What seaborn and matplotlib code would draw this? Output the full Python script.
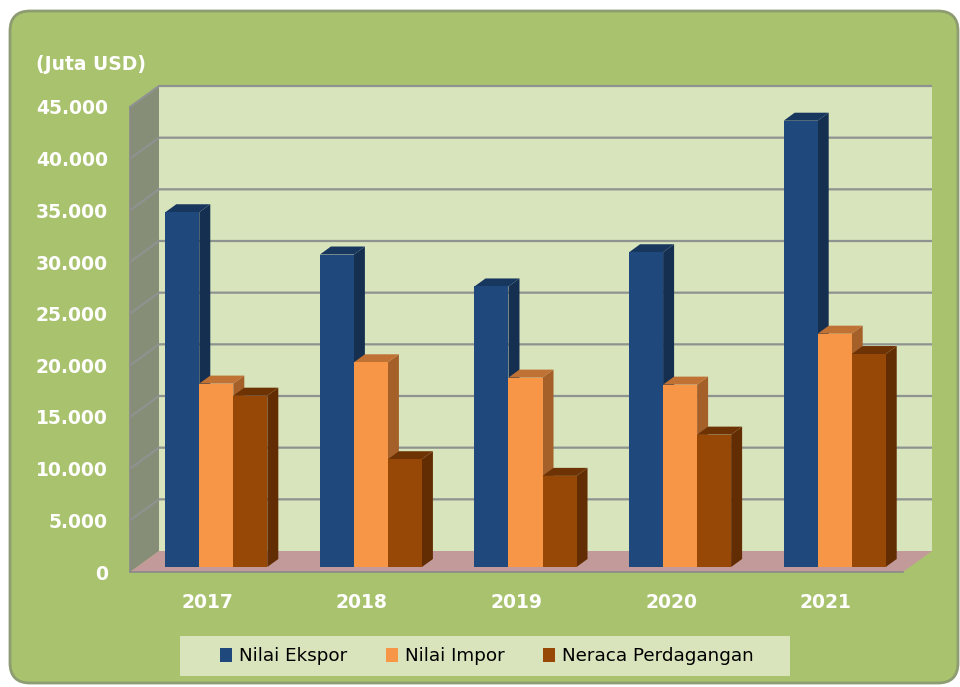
import numpy as np
import pandas as pd
import matplotlib
matplotlib.use("Agg")
import matplotlib.pyplot as plt
import seaborn as sns
from matplotlib.patches import Polygon, FancyBboxPatch, Patch, Rectangle
from matplotlib.transforms import Affine2D, IdentityTransform

# data (Juta USD)
years = ["2017", "2018", "2019", "2020", "2021"]
ekspor = [34330, 30240, 27150, 30460, 43190]
impor = [17750, 19810, 18330, 17650, 22580]
neraca = [16580, 10430, 8820, 12810, 20610]
series = ["Nilai Ekspor", "Nilai Impor", "Neraca Perdagangan"]
yticks = [0, 5000, 10000, 15000, 20000, 25000, 30000, 35000, 40000, 45000]

front_colors = ["#1F497D", "#F79646", "#974806"]
side_colors = ["#142F50", "#A5602A", "#632D03"]
top_colors = ["#17375E", "#C07234", "#6E3304"]

df = pd.DataFrame({
    "Tahun": years * 3,
    "Nilai": ekspor + impor + neraca,
    "Seri": np.repeat(series, len(years)),
})

W, H = 960, 687
sns.set_style("white")
fig = plt.figure(figsize=(W / 100, H / 100), dpi=100, facecolor="white")
I = IdentityTransform()

# green rounded panel
panel = FancyBboxPatch((10, H - 683), 948, 672, boxstyle="round,pad=0,rounding_size=20",
                       fc="#A9C26E", ec="#8E9C72", lw=2)
panel.set_transform(I)
panel.set_zorder(-5)
fig.add_artist(panel)

ax = fig.add_axes([130 / W, 115 / H, 773 / W, 465 / H])
ax.patch.set_visible(False)

sns.barplot(data=df, x="Tahun", y="Nilai", hue="Seri", palette=front_colors,
            width=0.66, saturation=1, linewidth=0, legend=False, ax=ax)
bars = [p for p in ax.patches if isinstance(p, Rectangle) and p.get_height() > 0]
bars = sorted(bars, key=lambda p: p.get_x())
ax.set_xlim(-0.5, 4.5)
ax.set_ylim(0, 45000)
ax.set_xlabel("")
ax.set_ylabel("")

# 3d box: walls, floor, gridlines (display px)
dx, dy = 29, 21
x0, y0 = ax.transData.transform((-0.5, 0))
x1, y1 = ax.transData.transform((4.5, 45000))

def add_poly(pts, fc, z, ec="none", lw=0):
    p = Polygon(pts, closed=True, fc=fc, ec=ec, lw=lw, transform=I, clip_on=False, zorder=z)
    ax.add_patch(p)

add_poly([(x0 + dx, y0 + dy), (x1 + dx, y0 + dy), (x1 + dx, y1 + dy), (x0 + dx, y1 + dy)], "#D8E4BC", 0.1)
add_poly([(x0, y0), (x0 + dx, y0 + dy), (x0 + dx, y1 + dy), (x0, y1)], "#878E77", 0.2)
add_poly([(x0, y0), (x1, y0), (x1 + dx, y0 + dy), (x0 + dx, y0 + dy)], "#C29A9A", 0.3)

for v in yticks[1:]:
    yv = ax.transData.transform((0, v))[1]
    ax.plot([x0, x0 + dx, x1 + dx], [yv, yv + dy, yv + dy], color="#8F9390", lw=1.6,
            transform=I, clip_on=False, zorder=0.4, solid_capstyle="butt")

# bars: shift to mid depth and add side / top faces
sx, sy = 9, 5
bd, be = 11, 8
ncat = len(years)
for i, b in enumerate(bars):
    k = i % 3
    b.set_transform(ax.transData + Affine2D().translate(sx, sy))
    xa, ya = ax.transData.transform((b.get_x(), 0))
    xb, yb = ax.transData.transform((b.get_x() + b.get_width(), b.get_height()))
    xa, xb, ya, yb = xa + sx, xb + sx, ya + sy, yb + sy
    z = 1 + 3 * i
    add_poly([(xb, ya), (xb + bd, ya + be), (xb + bd, yb + be), (xb, yb)], side_colors[k], z)
    add_poly([(xa, yb), (xb, yb), (xb + bd, yb + be), (xa + bd, yb + be)], top_colors[k], z + 1)
    b.set_zorder(z + 2)
    b.set_clip_on(False)

# spines and ticks
for s in ["top", "right"]:
    ax.spines[s].set_visible(False)
for s in ["left", "bottom"]:
    ax.spines[s].set_color("#8A8A8A")
    ax.spines[s].set_linewidth(1.2)

ylabels = [f"{v:,.0f}".replace(",", ".") for v in yticks]
ax.set_yticks(yticks, labels=ylabels, fontsize=13.5, fontweight="bold", color="white")
ax.tick_params(axis="y", length=5, width=1.2, color="#8A8A8A", pad=11)
ax.set_xticks(range(ncat), labels=years, fontsize=13.5, fontweight="bold", color="white")
ax.tick_params(axis="x", which="major", length=0, pad=15)
ax.set_xticks(np.arange(-0.5, ncat, 1), minor=True)
ax.tick_params(axis="x", which="minor", length=5, width=1.2, color="#8A8A8A")

fig.text(36 / W, 1 - 65 / H, "(Juta USD)", ha="left", va="center", fontsize=13.5,
         fontweight="bold", color="white")

# legend box + entries
legbox = Rectangle((180, H - 676), 610, 40, fc="#D9E4BC", ec="none", lw=0)
legbox.set_transform(I)
legbox.set_zorder(1)
fig.add_artist(legbox)

handles = [Patch(facecolor=c, edgecolor="none") for c in front_colors]
leg = fig.legend(handles, series, loc="center", bbox_to_anchor=(487 / W, (H - 656) / H),
                 ncol=3, frameon=False, fontsize=13.2, handlelength=0.65, handleheight=0.8,
                 handletextpad=0.4, columnspacing=2.1, borderaxespad=0, borderpad=0,
                 labelcolor="black")
leg.set_zorder(2)

fig.savefig("out.png", dpi=100, facecolor="white")
